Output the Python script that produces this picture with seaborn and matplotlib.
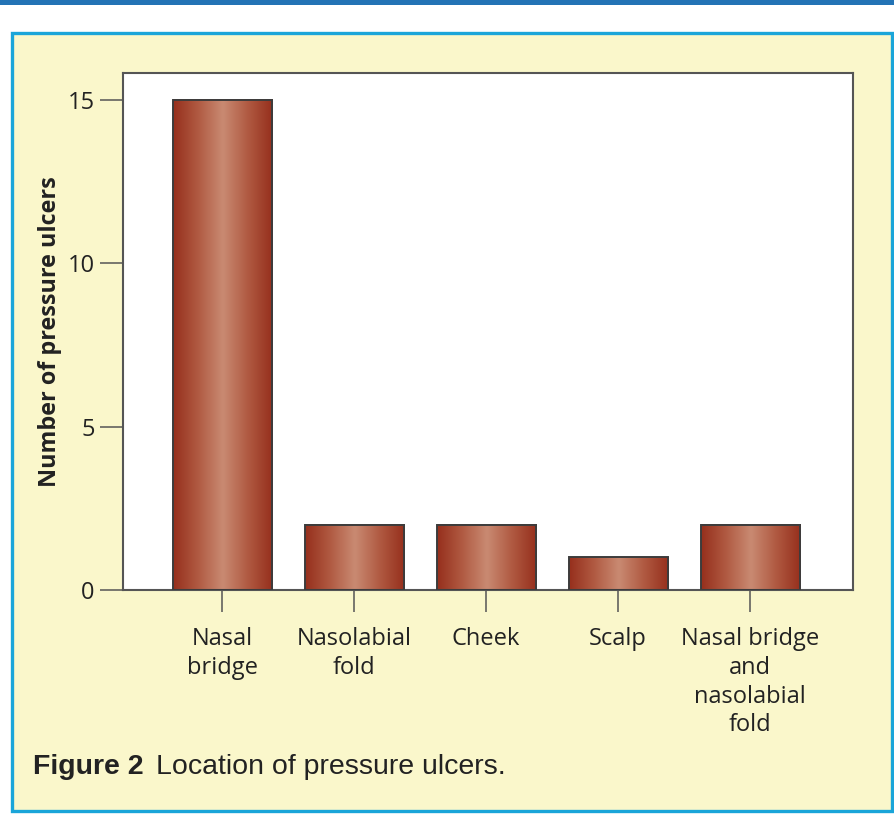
import numpy as np
import pandas as pd
import matplotlib
matplotlib.use("Agg")
import matplotlib.pyplot as plt
import seaborn as sns
from matplotlib.colors import LinearSegmentedColormap
from matplotlib.patches import Rectangle
from matplotlib import font_manager

# ---- data ----
categories = ["Nasal\nbridge", "Nasolabial\nfold", "Cheek", "Scalp",
              "Nasal bridge\nand\nnasolabial\nfold"]
values = [15, 2, 2, 1, 2]
yticks = [0, 5, 10, 15]
ylabel = "Number of pressure ulcers"
caption_bold = "Figure 2"
caption_rest = "Location of pressure ulcers."

sns.set_theme(style="white")
installed = {f.name for f in font_manager.fontManager.ttflist}
main_font = "Open Sans" if "Open Sans" in installed else "DejaVu Sans"
cap_font = "Liberation Sans Narrow" if "Liberation Sans Narrow" in installed else "Liberation Sans"
plt.rcParams["font.family"] = [main_font, "DejaVu Sans"]

fig = plt.figure(figsize=(8.94, 8.21), dpi=100)
fig.patch.set_facecolor("white")

# top blue bar
fig.add_artist(Rectangle((0, 1 - 5 / 821), 1, 5 / 821, transform=fig.transFigure,
                         facecolor="#2373b5", edgecolor="none", zorder=0))
# cream box with blue border
fig.add_artist(Rectangle((11.5 / 894, 1 - 811 / 821), 880 / 894, 778 / 821,
                         transform=fig.transFigure, facecolor="#faf7cb",
                         edgecolor="#1aa5d9", linewidth=2.4, zorder=0))

ax = fig.add_axes([123 / 894, 1 - 590 / 821, 730 / 894, 517 / 821])
ax.set_zorder(1)
df = pd.DataFrame({"cat": categories, "val": values})
sns.barplot(data=df, x="cat", y="val", width=0.75, color="#a03a25",
            ax=ax, saturation=1)

cmap = LinearSegmentedColormap.from_list(
    "grad", ["#962f1c", "#b05a42", "#c98a72", "#b05a42", "#962f1c"])
grad = np.linspace(0, 1, 256).reshape(1, -1)
for p in ax.patches:
    x, y, w, h = p.get_x(), p.get_y(), p.get_width(), p.get_height()
    ax.imshow(grad, cmap=cmap, extent=[x, x + w, y, y + h],
              aspect="auto", zorder=2, interpolation="bilinear")
    p.set_facecolor("none")
    p.set_edgecolor("#3c3c3c")
    p.set_linewidth(1.4)
    p.set_zorder(3)

ax.set_xlim(-0.75, 4.78)
ax.set_ylim(0, 15.82)
ax.set_facecolor("white")
for s in ax.spines.values():
    s.set_visible(True)
    s.set_color("#555555")
    s.set_linewidth(1.5)

ax.set_yticks(yticks)
ax.set_yticklabels([str(t) for t in yticks])
ax.tick_params(axis="y", direction="out", length=16.5, width=1.1, color="#555555",
               labelsize=17, pad=4, labelcolor="#222222")
ax.tick_params(axis="x", direction="out", length=16, width=1.1, color="#555555",
               labelsize=17, pad=10.5, labelcolor="#222222")
ax.tick_params(left=True, bottom=True)
for lbl in ax.get_xticklabels():
    lbl.set_linespacing(1.27)
ax.set_xlabel("")
ax.set_ylabel(ylabel, fontsize=16.8, fontweight="bold", color="#222222", labelpad=4)

# caption
fs_cap = 20.5
t1 = fig.text(33 / 894, 1 - 767 / 821, caption_bold, fontsize=fs_cap, fontweight="bold",
              family=[cap_font, "DejaVu Sans"], va="center", ha="left", color="#222222")
r = fig.canvas.get_renderer()
bb = t1.get_window_extent(renderer=r)
fig.text(bb.x1 / 894 + 12 / 894, 1 - 767 / 821, caption_rest, fontsize=fs_cap,
         family=[cap_font, "DejaVu Sans"], va="center", ha="left", color="#222222")

fig.savefig("out.png", dpi=100, facecolor="white")
